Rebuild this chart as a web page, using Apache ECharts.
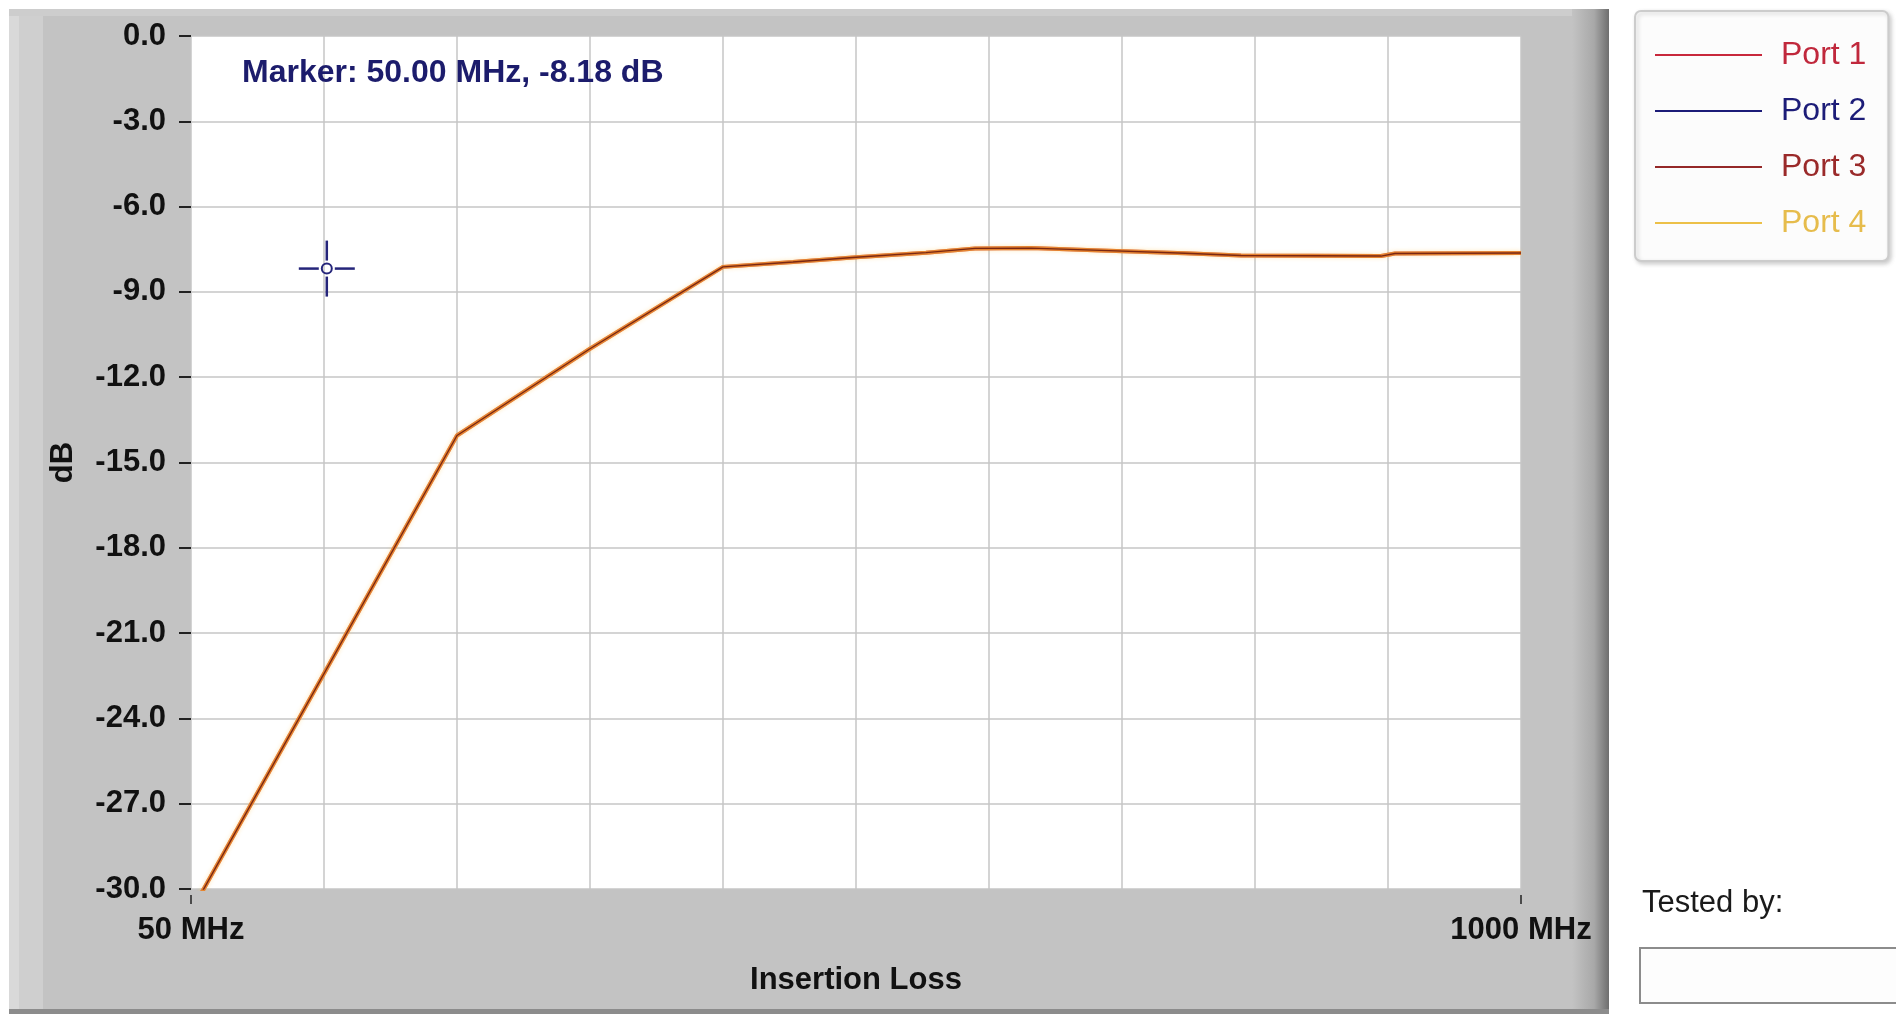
<!DOCTYPE html>
<html>
<head>
<meta charset="utf-8">
<script src="https://cdn.jsdelivr.net/npm/echarts@6/dist/echarts.min.js"></script>
<style>
  html, body { margin: 0; padding: 0; background: #ffffff; }
  #chart { width: 1896px; height: 1018px; }
</style>
</head>
<body>
<div id="chart"></div>
<script>
// ---- data ----
const freqMHz = [50, 240, 335, 430, 480, 525, 575, 610, 650, 700, 760, 800, 900, 910, 1000];
const port1Db = [-30.8, -14.05, -11.0, -8.12, -7.95, -7.78, -7.62, -7.47, -7.46, -7.54, -7.64, -7.72, -7.74, -7.65, -7.63];
const port2Db = [-30.8, -14.05, -11.0, -8.12, -7.95, -7.78, -7.62, -7.47, -7.46, -7.54, -7.64, -7.72, -7.74, -7.65, -7.63];
const port3Db = [-30.8, -14.05, -11.0, -8.12, -7.95, -7.78, -7.62, -7.47, -7.46, -7.54, -7.64, -7.72, -7.74, -7.65, -7.63];
const port4Db = [-30.8, -14.05, -11.0, -8.12, -7.95, -7.78, -7.62, -7.47, -7.46, -7.54, -7.64, -7.72, -7.74, -7.65, -7.63];
const portNames = ['Port 1', 'Port 2', 'Port 3', 'Port 4'];
const xLabelValues = [50, 1000];
const xDivisions = 10;
const yMin = -30, yMax = 0, yStep = 3;
const markerPoint = [147, -8.18];
const markerText = 'Marker: 50.00 MHz, -8.18 dB';
const xAxisTitle = 'Insertion Loss';
const yAxisTitle = 'dB';
const testedByText = 'Tested by:';

const FONT = 'Liberation Sans, Arial, sans-serif';
const portColors = ['#c8283c', '#1c1c78', '#952828', '#ecc048'];
const portText = ['#c0283c', '#1c1c78', '#9a2a2a', '#e6bc4c'];

function pairs(ys) { return freqMHz.map((f, i) => [f, ys[i]]); }

const chart = echarts.init(document.getElementById('chart'), null, { renderer: 'canvas' });

const option = {
  animation: false,
  backgroundColor: '#ffffff',
  grid: {
    left: 191, right: 375, top: 36, bottom: 129,
    show: true, backgroundColor: '#ffffff', borderWidth: 0, z: 0
  },
  graphic: [
    { type: 'rect', z: -10, shape: { x: 9, y: 9, width: 1600, height: 1005 }, style: { fill: '#c3c3c3' } },
    { type: 'rect', z: -9, shape: { x: 9, y: 9, width: 34, height: 1005 }, style: { fill: '#cfcfcf' } },
    { type: 'rect', z: -9, shape: { x: 9, y: 9, width: 10, height: 1005 }, style: { fill: '#d9d9d9' } },
    { type: 'rect', z: -9, shape: { x: 9, y: 9, width: 1600, height: 7 }, style: { fill: '#cdcdcd' } },
    { type: 'rect', z: -8, shape: { x: 1572, y: 9, width: 37, height: 1005 },
      style: { fill: new echarts.graphic.LinearGradient(0, 0, 1, 0, [
        { offset: 0, color: '#c3c3c3' }, { offset: 0.6, color: '#a8a8a8' }, { offset: 1, color: '#6e6e6e' }]) } },
    { type: 'rect', z: -7, shape: { x: 9, y: 1009, width: 1600, height: 5 }, style: { fill: '#8c8c8c' } },
    { type: 'text', z: 10, left: 242, top: 57,
      style: { text: markerText, fill: '#1c1c6c', font: 'bold 32px ' + FONT } },
    { type: 'text', z: 10, left: 1642, top: 888,
      style: { text: testedByText, fill: '#1a1a1a', font: '31px ' + FONT } },
    { type: 'rect', z: 10, shape: { x: 1640, y: 948, width: 270, height: 55 },
      style: { fill: '#fdfdfd', stroke: '#8c8c8c', lineWidth: 2 } }
  ],
  legend: {
    orient: 'vertical',
    left: 1635, top: 11,
    padding: [26, 22, 20, 20],
    itemWidth: 107, itemHeight: 2, itemGap: 20,
    icon: 'rect',
    backgroundColor: '#fcfcfc',
    borderColor: '#cccccc', borderWidth: 2, borderRadius: 6,
    shadowColor: 'rgba(0,0,0,0.18)', shadowBlur: 4, shadowOffsetX: 2, shadowOffsetY: 2,
    textStyle: { fontSize: 32, fontFamily: FONT, lineHeight: 36, padding: [0, 0, 0, 14] },
    data: portNames.map((n, i) => ({
      name: n,
      itemStyle: { color: portColors[i], opacity: 1 },
      textStyle: { color: portText[i] }
    }))
  },
  xAxis: [
    {
      type: 'value', min: 50, max: 1000, position: 'bottom',
      axisLine: { show: false },
      axisTick: { show: false },
      axisLabel: { show: true, customValues: xLabelValues, margin: 26,
        formatter: v => (xLabelValues.indexOf(v) >= 0 ? v + ' MHz' : ''),
        color: '#111111', fontWeight: 'bold', fontSize: 31, fontFamily: FONT },
      splitLine: { show: false },
      name: xAxisTitle, nameLocation: 'middle', nameGap: 76,
      nameTextStyle: { color: '#111111', fontWeight: 'bold', fontSize: 31, fontFamily: FONT }
    },
    {
      type: 'value', min: 0, max: xDivisions, interval: 1, position: 'top',
      axisLine: { show: false }, axisTick: { show: false }, axisLabel: { show: false },
      splitLine: { show: true, lineStyle: { color: '#c6c6c6', width: 1.5 } }
    }
  ],
  yAxis: {
    type: 'value', min: yMin, max: yMax, interval: yStep, offset: 7,
    axisLine: { show: false },
    axisTick: { show: true, length: 12, inside: false, lineStyle: { color: '#222222', width: 2 } },
    axisLabel: { margin: 18, formatter: v => v.toFixed(1),
      color: '#111111', fontWeight: 'bold', fontSize: 31, fontFamily: FONT },
    splitLine: { show: true, lineStyle: { color: '#c6c6c6', width: 1.5 } },
    name: yAxisTitle, nameLocation: 'middle', nameGap: 105,
    nameTextStyle: { color: '#111111', fontWeight: 'bold', fontSize: 31, fontFamily: FONT }
  },
  series: [
    { name: 'Port 1', type: 'line', data: pairs(port1Db), symbol: 'none', z: 3,
      color: portColors[0], lineStyle: { color: portColors[0], width: 4 } },
    { name: 'Port 2', type: 'line', data: pairs(port2Db), symbol: 'none', z: 2,
      color: portColors[1], lineStyle: { color: portColors[1], width: 2 } },
    { name: 'Port 3', type: 'line', data: pairs(port3Db), symbol: 'none', z: 5,
      color: portColors[2], lineStyle: { color: '#7a2612', width: 1.4 } },
    { name: 'Port 4', type: 'line', data: pairs(port4Db), symbol: 'none', z: 4,
      color: portColors[3], lineStyle: { color: '#f2b020', width: 4, opacity: 0.55,
        shadowColor: 'rgba(255,200,90,0.8)', shadowBlur: 4 } },
    { name: 'xEndTicks', type: 'custom', xAxisIndex: 0, yAxisIndex: 0, z: 6, clip: false,
      data: xLabelValues.map(v => [v, yMin]),
      renderItem: function (params, api) {
        const p = api.coord([api.value(0), api.value(1)]);
        return { type: 'line', shape: { x1: p[0], y1: p[1] + 6, x2: p[0], y2: p[1] + 15 },
          style: { stroke: '#222222', lineWidth: 1.5 } };
      }
    },
    { name: 'marker', type: 'custom', xAxisIndex: 0, yAxisIndex: 0, z: 6, clip: false,
      data: [markerPoint],
      renderItem: function (params, api) {
        const p = api.coord([api.value(0), api.value(1)]);
        const st = { stroke: '#25257a', lineWidth: 2.5 };
        return {
          type: 'group',
          children: [
            { type: 'line', shape: { x1: p[0] - 28, y1: p[1], x2: p[0] - 8, y2: p[1] }, style: st },
            { type: 'line', shape: { x1: p[0] + 8, y1: p[1], x2: p[0] + 28, y2: p[1] }, style: st },
            { type: 'line', shape: { x1: p[0], y1: p[1] - 28, x2: p[0], y2: p[1] - 8 }, style: st },
            { type: 'line', shape: { x1: p[0], y1: p[1] + 8, x2: p[0], y2: p[1] + 28 }, style: st },
            { type: 'circle', shape: { cx: p[0], cy: p[1], r: 5 },
              style: { fill: 'none', stroke: '#25257a', lineWidth: 2 } }
          ]
        };
      }
    }
  ]
};
chart.setOption(option);
</script>
</body>
</html>
